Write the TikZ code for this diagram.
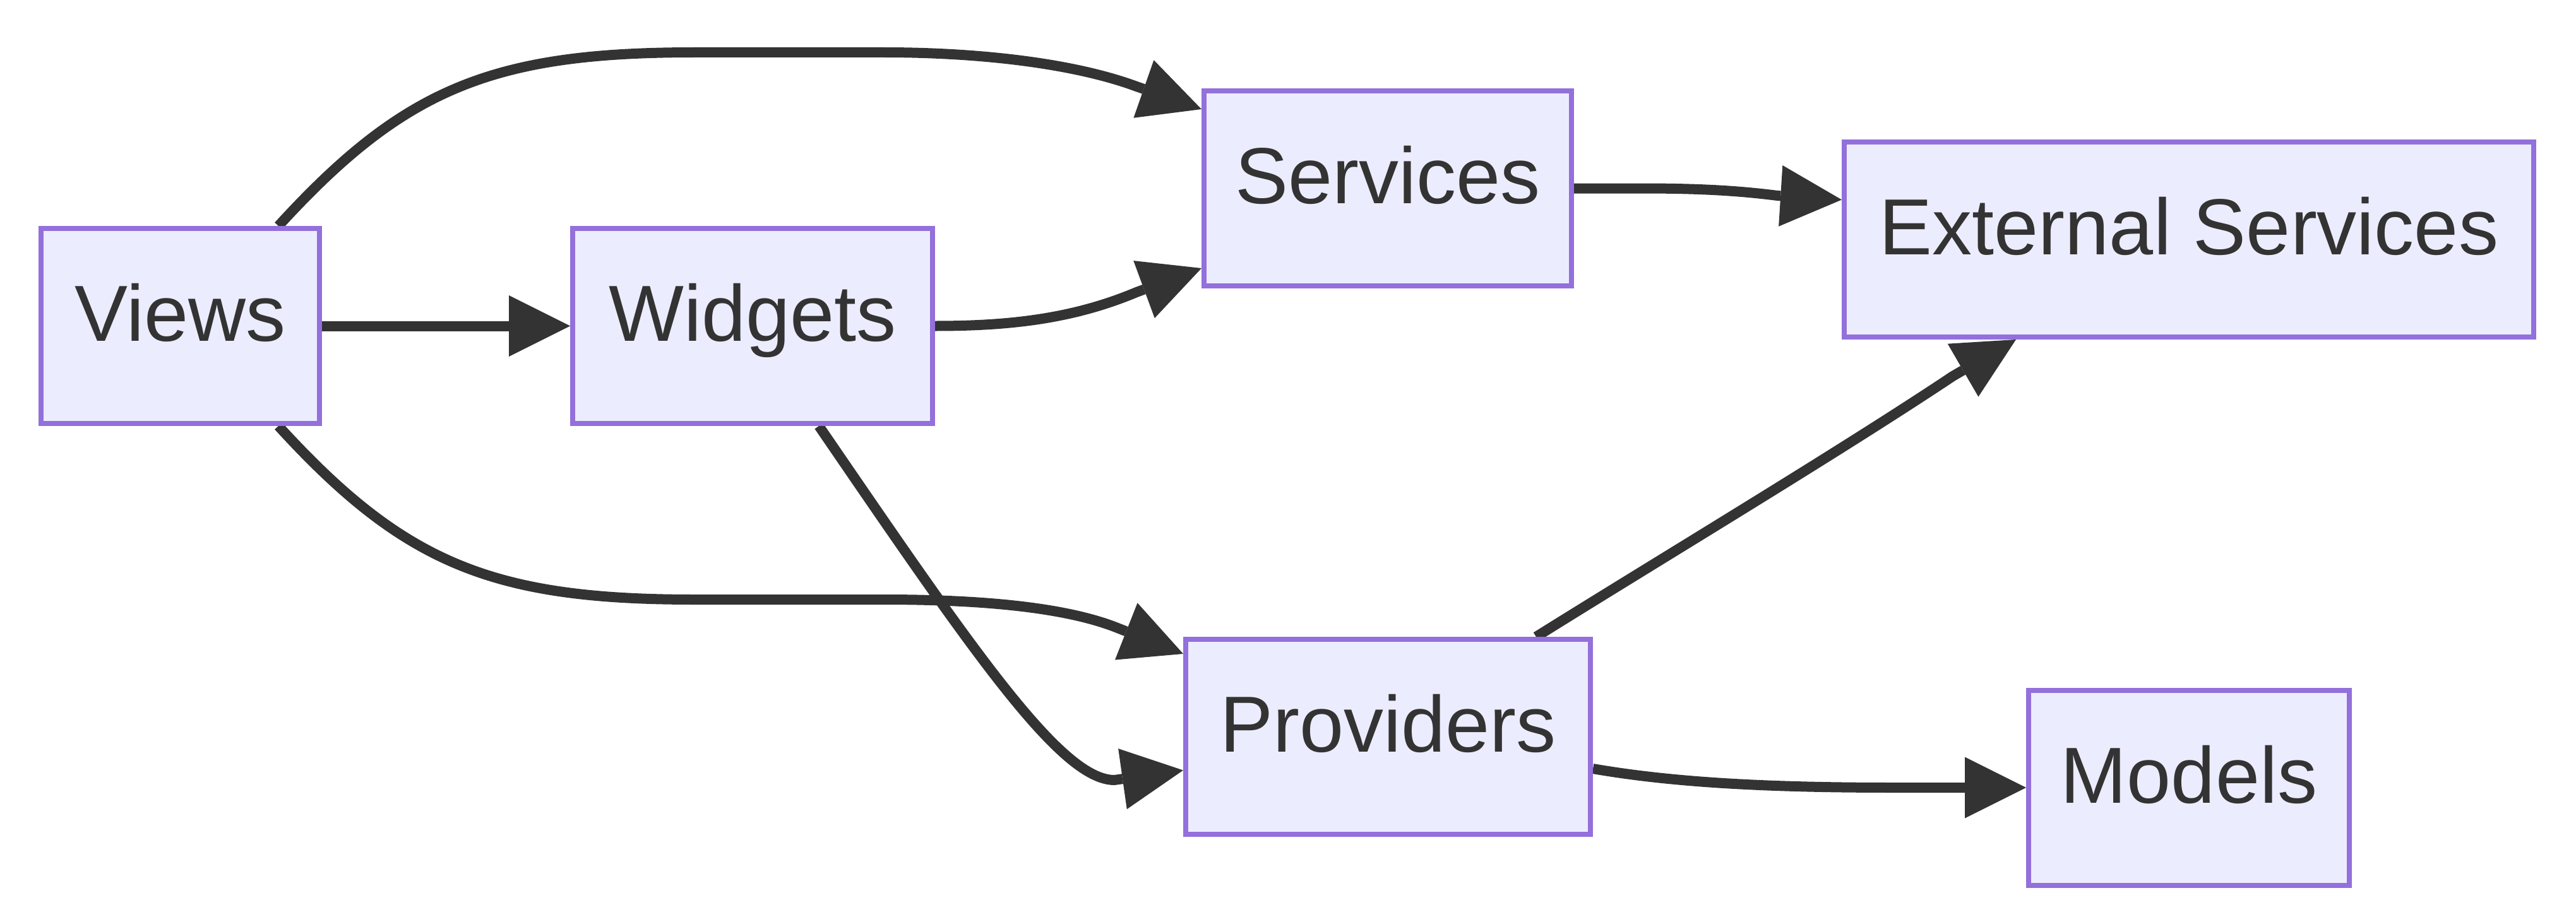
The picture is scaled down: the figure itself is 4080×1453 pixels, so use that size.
\documentclass[tikz,border=0pt]{standalone}
\usepackage{fontspec}
\setmainfont{Liberation Sans}
\usetikzlibrary{arrows.meta,calc}
\definecolor{nodefill}{HTML}{ECECFF}
\definecolor{nodeline}{HTML}{9370DB}
\definecolor{ink}{HTML}{333333}
\pgfdeclarelayer{bglayer}
\pgfdeclarelayer{edgelayer}
\pgfsetlayers{bglayer,edgelayer,main}
\begin{document}
\begin{tikzpicture}[x=1pt,y=-1pt,
  box/.style={draw=nodeline, fill=nodefill, line width=8pt, inner sep=0pt,
    minimum height=309pt, text=ink, font=\fontsize{126pt}{126pt}\selectfont,
    text height=90pt, text depth=42pt},
  link/.style={draw=ink, line width=16pt,
    -{Triangle[length=97pt,width=97pt,line width=0pt]}}]
\begin{pgfonlayer}{bglayer}
\fill[white] (0,0) rectangle (4080,1453);
\end{pgfonlayer}
\useasboundingbox (0,0) rectangle (4080,1453);

\node[box, minimum width=441pt] (v) at (285.5,516.5) {Views};
\node[box, minimum width=570pt] (w) at (1192,516.5) {Widgets};
\node[box, minimum width=582pt] (s) at (2198,298.5) {Services};
\node[box, minimum width=1092pt] (e) at (3467,379.5) {External Services};
\node[box, minimum width=641pt] (p) at (2198.5,1167.5) {Providers};
\node[box, minimum width=508pt] (m) at (3467,1248) {Models};

\begin{pgfonlayer}{edgelayer}
\draw[link] (v.east) -- (w.west);
\draw[link] ([xshift=155.5pt]v.north) .. controls (640,140) and (780,83) .. (1100,83)
  -- (1400,83) .. controls (1550,83) and (1700,100) .. (1800,137)
  -- ([yshift=125.5pt]s.west);
\draw[link] ([xshift=155.5pt]v.south) .. controls (640,893) and (780,950) .. (1100,950)
  -- (1400,950) .. controls (1560,950) and (1690,963) .. (1770,995)
  -- ([yshift=131.5pt]p.west);
\draw[link] (w.east) .. controls (1600,516.5) and (1700,505) .. (1800,463)
  -- ([yshift=-126.5pt]s.west);
\draw[link] ([xshift=105pt]w.south) .. controls (1540,1030) and (1680,1236) .. (1765,1236)
  -- ([yshift=-53pt]p.west);
\draw[link] (s.east) -- (2600,298.5) .. controls (2700,298.5) and (2760,303) .. (2815,310)
  -- ([yshift=63pt]e.west);
\draw[link] ([xshift=234.5pt]p.north) .. controls (2633,884) and (2913,716) .. (3093,596)
  -- ([xshift=-274pt]e.south);
\draw[link] ([yshift=-50.5pt]p.east) .. controls (2650,1240) and (2800,1248) .. (3000,1248)
  -- (m.west);
\end{pgfonlayer}
\end{tikzpicture}
\end{document}
